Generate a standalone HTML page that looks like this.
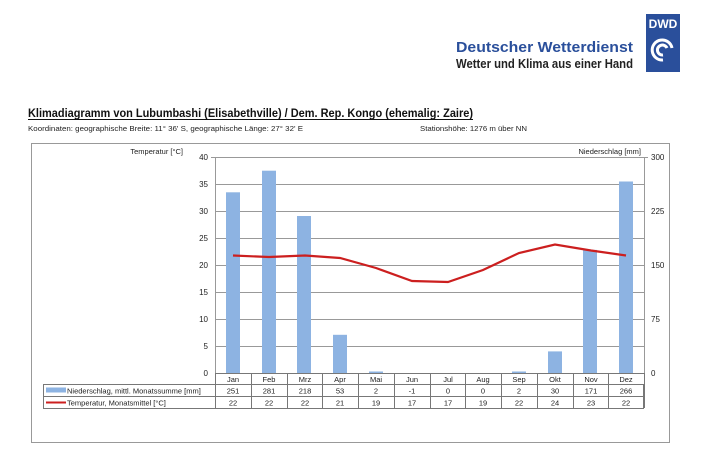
<!DOCTYPE html>
<html><head><meta charset="utf-8"><style>
body{margin:0;background:#fff;}
svg{display:block;font-family:"Liberation Sans",sans-serif;}
</style></head><body>
<svg width="713" height="461" viewBox="0 0 713 461" xmlns="http://www.w3.org/2000/svg">
<!-- logo -->
<rect x="646" y="14" width="34" height="58" fill="#2a4f9b"/>
<text x="663" y="28" font-size="12" font-weight="bold" fill="#fff" text-anchor="middle">DWD</text>
<path d="M663 60 a10 10 0 1 1 9 -12 M663 55 a5 5 0 1 1 4 -7" stroke="#fff" stroke-width="3" fill="none"/>
<text x="456" y="52" font-size="15" font-weight="bold" fill="#2a4f9b" textLength="177" lengthAdjust="spacingAndGlyphs">Deutscher Wetterdienst</text>
<text x="456" y="68" font-size="12.5" font-weight="bold" fill="#222" textLength="177" lengthAdjust="spacingAndGlyphs">Wetter und Klima aus einer Hand</text>
<!-- title -->
<text x="28" y="117" font-size="11.5" font-weight="bold" fill="#111" textLength="445" lengthAdjust="spacingAndGlyphs">Klimadiagramm von Lubumbashi (Elisabethville) / Dem. Rep. Kongo (ehemalig: Zaire)</text>
<line x1="28" y1="119.5" x2="473" y2="119.5" stroke="#111" stroke-width="1"/>
<text x="28" y="131" font-size="7.5" fill="#222" textLength="275" lengthAdjust="spacingAndGlyphs">Koordinaten: geographische Breite: 11° 36' S, geographische Länge: 27° 32' E</text>
<text x="420" y="131" font-size="7.5" fill="#222" textLength="107" lengthAdjust="spacingAndGlyphs">Stationshöhe: 1276 m über NN</text>
<!-- box -->
<rect x="31.5" y="143.5" width="638" height="299" fill="none" stroke="#999"/>
<text x="183" y="154" font-size="7.5" fill="#222" text-anchor="end">Temperatur [°C]</text>
<text x="641" y="154" font-size="7.5" fill="#222" text-anchor="end">Niederschlag [mm]</text>
<g stroke="#999" stroke-width="1">
<line x1="215" y1="157.5" x2="644" y2="157.5"/><line x1="215" y1="184.5" x2="644" y2="184.5"/>
<line x1="215" y1="211.5" x2="644" y2="211.5"/><line x1="215" y1="238.5" x2="644" y2="238.5"/>
<line x1="215" y1="265.5" x2="644" y2="265.5"/><line x1="215" y1="292.5" x2="644" y2="292.5"/>
<line x1="215" y1="319.5" x2="644" y2="319.5"/><line x1="215" y1="346.5" x2="644" y2="346.5"/>
<line x1="215.5" y1="157" x2="215.5" y2="373"/><line x1="644.5" y1="157" x2="644.5" y2="373"/>
<line x1="211" y1="157.5" x2="215" y2="157.5"/><line x1="644" y1="157.5" x2="648" y2="157.5"/>
</g>
<g font-size="8" fill="#222" text-anchor="end">
<text x="208" y="160">40</text><text x="208" y="187">35</text><text x="208" y="214">30</text><text x="208" y="241">25</text>
<text x="208" y="268">20</text><text x="208" y="295">15</text><text x="208" y="322">10</text><text x="208" y="349">5</text><text x="208" y="376">0</text>
</g>
<g font-size="8" fill="#222">
<text x="651" y="160">300</text><text x="651" y="214">225</text><text x="651" y="268">150</text><text x="651" y="322">75</text><text x="651" y="376">0</text>
</g>
<g fill="#8db3e2">
<rect x="226" y="192.3" width="14" height="180.7"/>
<rect x="262" y="170.7" width="14" height="202.3"/>
<rect x="297" y="216" width="14" height="157"/>
<rect x="333" y="334.8" width="14" height="38.2"/>
<rect x="369" y="371.5" width="14" height="1.5"/>
<rect x="512" y="371.5" width="14" height="1.5"/>
<rect x="548" y="351.4" width="14" height="21.6"/>
<rect x="583" y="249.9" width="14" height="123.1"/>
<rect x="619" y="181.5" width="14" height="191.5"/>
</g>
<polyline fill="none" stroke="#cc1f1f" stroke-width="2.2" points="233,255.5 269,257 305,255.5 340,258 376,268 412,281 448,282 483,270 519,253 555,244.5 591,250.5 626,255.5"/>
<!-- table -->
<g stroke="#777" stroke-width="1" fill="none">
<rect x="43.5" y="384.5" width="600" height="24"/>
<line x1="43.5" y1="396.5" x2="644" y2="396.5"/>
<line x1="215.5" y1="373" x2="215.5" y2="408"/>
<line x1="215" y1="384.5" x2="644" y2="384.5"/>
<line x1="251.5" y1="373" x2="251.5" y2="408"/><line x1="287.5" y1="373" x2="287.5" y2="408"/>
<line x1="322.5" y1="373" x2="322.5" y2="408"/><line x1="358.5" y1="373" x2="358.5" y2="408"/>
<line x1="394.5" y1="373" x2="394.5" y2="408"/><line x1="430.5" y1="373" x2="430.5" y2="408"/>
<line x1="465.5" y1="373" x2="465.5" y2="408"/><line x1="501.5" y1="373" x2="501.5" y2="408"/>
<line x1="537.5" y1="373" x2="537.5" y2="408"/><line x1="573.5" y1="373" x2="573.5" y2="408"/>
<line x1="608.5" y1="373" x2="608.5" y2="408"/><line x1="644.5" y1="373" x2="644.5" y2="408"/>
<line x1="215" y1="373.5" x2="644" y2="373.5"/>
</g>
<rect x="46" y="387.5" width="20" height="5" fill="#8db3e2"/>
<line x1="46" y1="402.5" x2="66" y2="402.5" stroke="#cc1f1f" stroke-width="2"/>
<g font-size="7.5" fill="#222">
<text x="67" y="393.5">Niederschlag, mittl. Monatssumme [mm]</text>
<text x="67" y="405.5">Temperatur, Monatsmittel [°C]</text>
</g>
<g font-size="7.5" fill="#222" text-anchor="middle">
<text x="233" y="382">Jan</text><text x="269" y="382">Feb</text><text x="305" y="382">Mrz</text><text x="340" y="382">Apr</text>
<text x="376" y="382">Mai</text><text x="412" y="382">Jun</text><text x="448" y="382">Jul</text><text x="483" y="382">Aug</text>
<text x="519" y="382">Sep</text><text x="555" y="382">Okt</text><text x="591" y="382">Nov</text><text x="626" y="382">Dez</text>
<text x="233" y="393.5">251</text><text x="269" y="393.5">281</text><text x="305" y="393.5">218</text><text x="340" y="393.5">53</text>
<text x="376" y="393.5">2</text><text x="412" y="393.5">-1</text><text x="448" y="393.5">0</text><text x="483" y="393.5">0</text>
<text x="519" y="393.5">2</text><text x="555" y="393.5">30</text><text x="591" y="393.5">171</text><text x="626" y="393.5">266</text>
<text x="233" y="405.5">22</text><text x="269" y="405.5">22</text><text x="305" y="405.5">22</text><text x="340" y="405.5">21</text>
<text x="376" y="405.5">19</text><text x="412" y="405.5">17</text><text x="448" y="405.5">17</text><text x="483" y="405.5">19</text>
<text x="519" y="405.5">22</text><text x="555" y="405.5">24</text><text x="591" y="405.5">23</text><text x="626" y="405.5">22</text>
</g>
</svg>
</body></html>
